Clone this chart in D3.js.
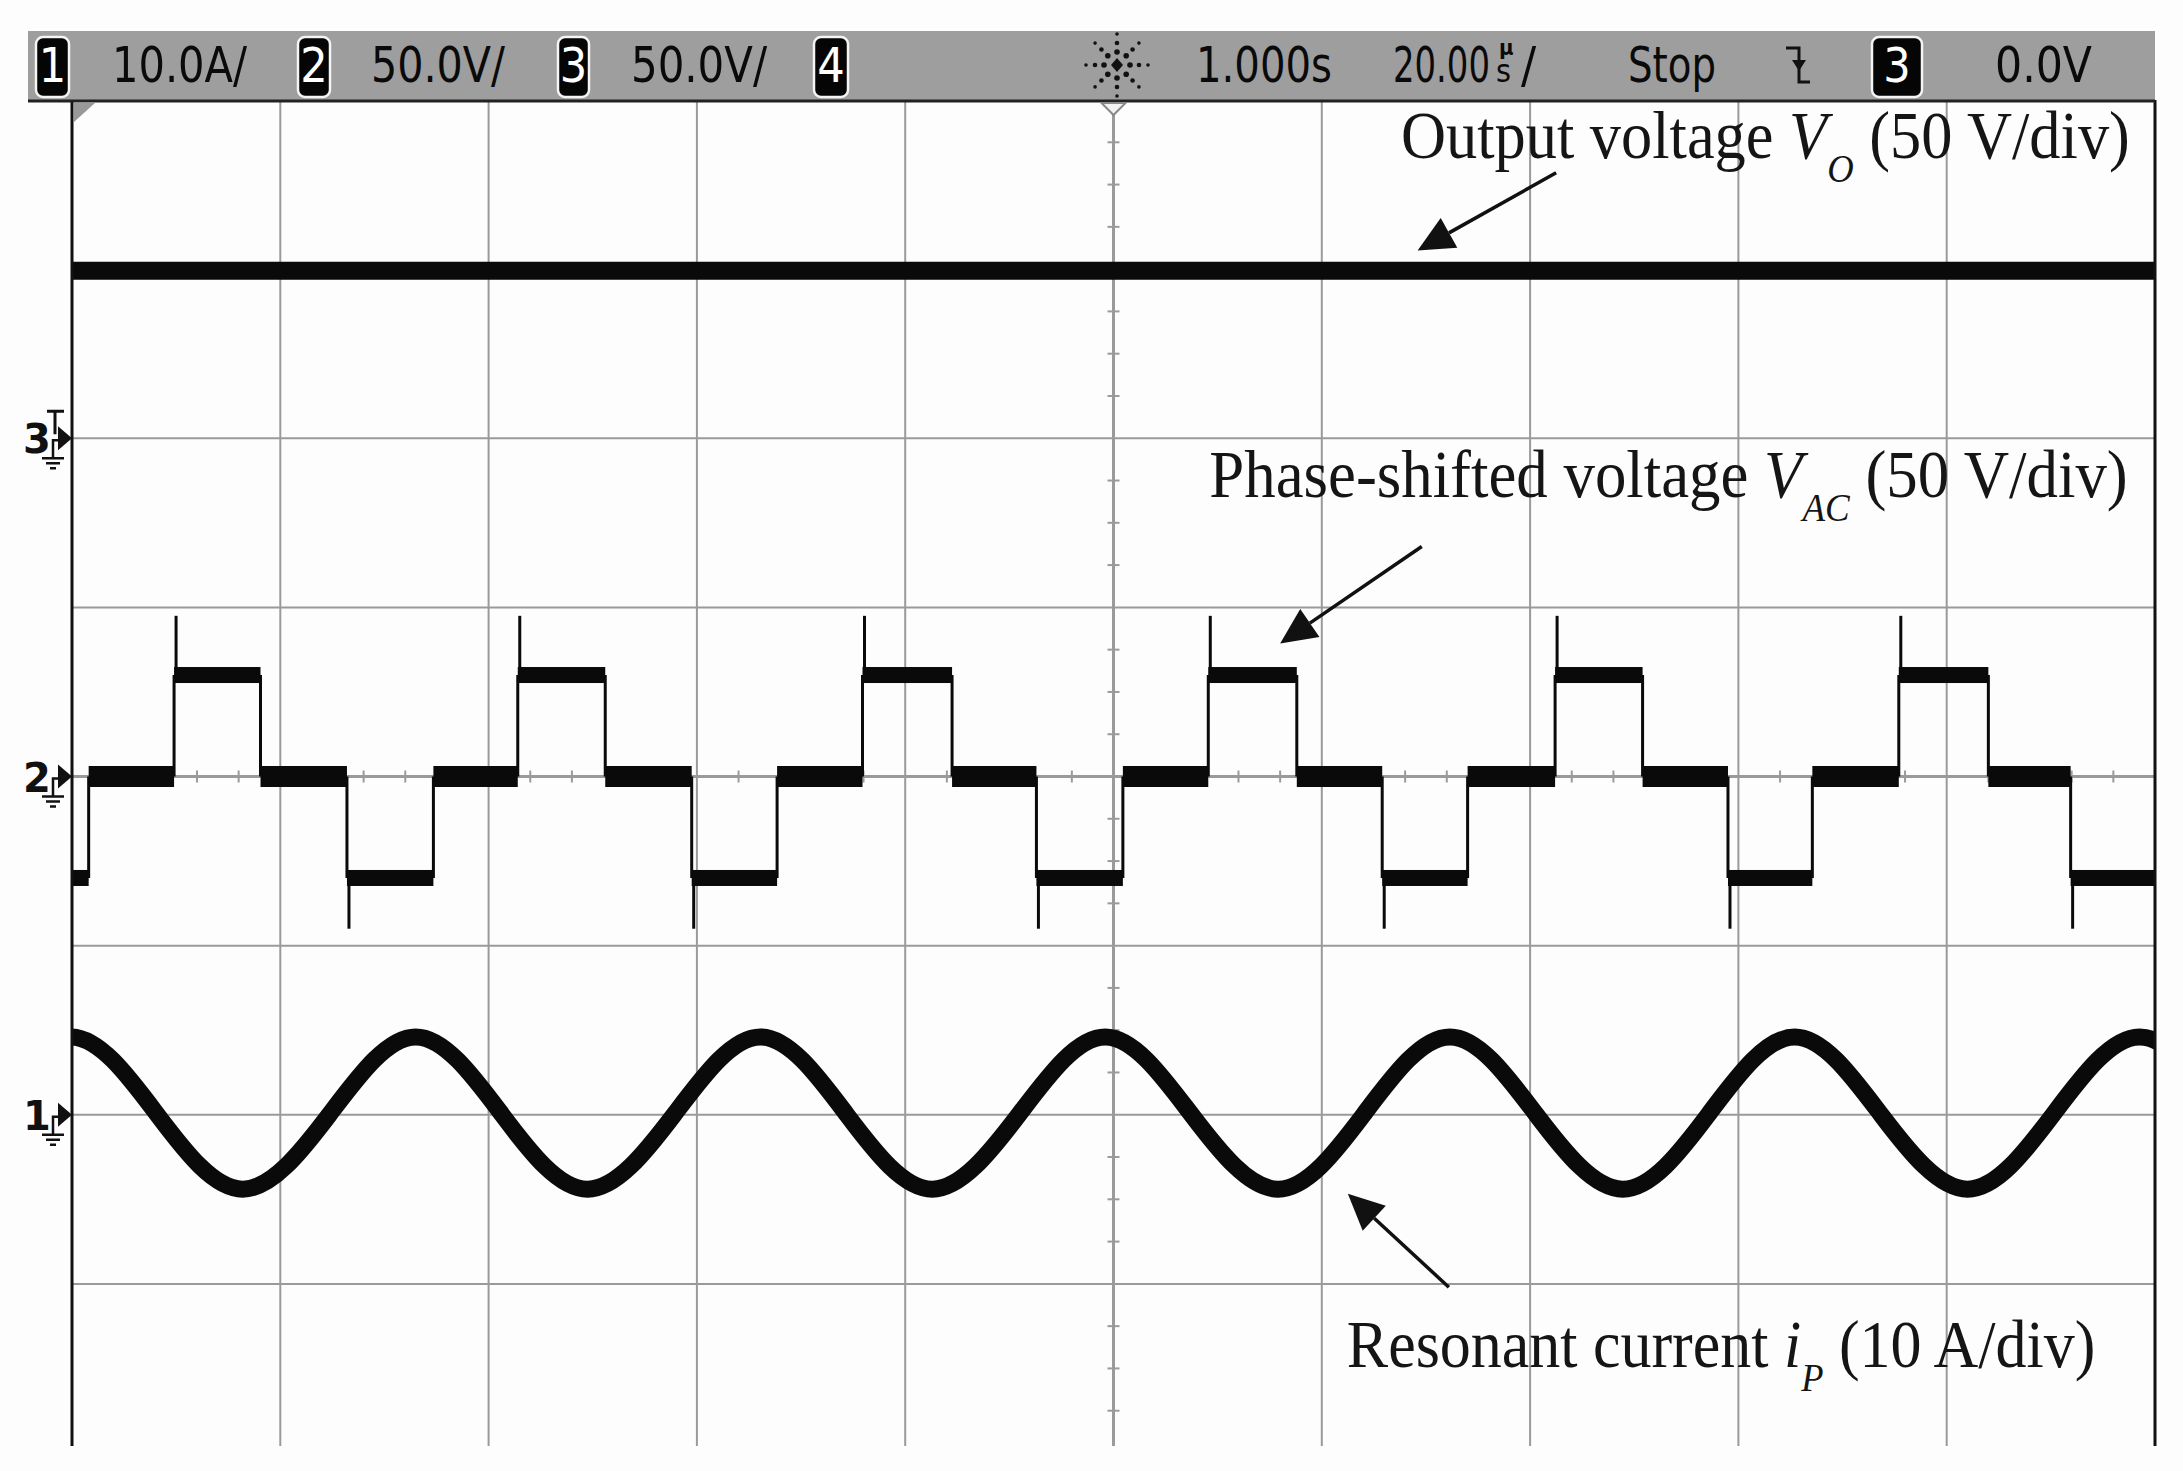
<!DOCTYPE html>
<html>
<head>
<meta charset="utf-8">
<script src="https://cdn.jsdelivr.net/npm/d3@7"></script>
<style>
html, body { margin: 0; padding: 0; background: #fff; }
svg { display: block; }
</style>
</head>
<body>
<svg id="scope" width="2183" height="1471"></svg>
<script>
// scope settings (from the status bar)
var timePerDiv = 20;                          // us / div
var ch1Scale = 10, ch2Scale = 50, ch3Scale = 50;   // A/div, V/div, V/div
var ch1Offset = -2, ch2Offset = 0, ch3Offset = 2;  // ground markers, div from centre

// channel 3 : output voltage Vo
var voTimes = [-100, 100];
var voValues = [49.5, 49.5];

// channel 2 : phase-shifted voltage VAC, edge times (us) and level held after each edge (V)
var vacTimes = [-100, -98.4, -90.2, -81.9, -73.6, -65.3, -57.2, -48.8, -40.5, -32.3, -24.1, -15.5,
                -7.4, 0.9, 9.1, 17.6, 25.8, 34.0, 42.4, 50.8, 59.0, 67.1, 75.4, 84.0, 91.9, 100];
var vacLevels = [-30, 0, 30, 0, -30, 0, 30, 0, -30, 0, 30, 0, -30, 0, 30, 0,
                 -30, 0, 30, 0, -30, 0, 30, 0, -30];
// ringing spike peak at the start of each level (V)
var vacSpikes = [null, null, 47.5, null, -45, null, 47.5, null, -45, null, 47.5, null,
                 -45, null, 47.5, null, -45, null, 47.5, null, -45, null, 47.5, null, -45];

// channel 1 : resonant current ip, peaks / zero crossings / troughs (us, A)
var ipTimes = [-108.4, -100.1, -91.8, -83.6, -75.3, -67.0, -58.7, -50.5, -42.2, -33.9, -25.6, -17.4,
               -9.1, -0.8, 7.5, 15.8, 24.0, 32.3, 40.6, 48.9, 57.1, 65.4, 73.7, 82.0, 90.2, 98.5, 106.8];
var ipValues = [0, 4.6, 0, -4.4, 0, 4.6, 0, -4.4, 0, 4.6, 0, -4.4, 0, 4.6,
                0, -4.4, 0, 4.6, 0, -4.4, 0, 4.6, 0, -4.4, 0, 4.6, 0];

// status bar
var chanBoxes = [["1", 36, 69], ["2", 298, 330], ["3", 558, 589], ["4", 814, 848], ["3", 1872, 1922]];
var statusTexts = [["10.0A/", 112, 247], ["50.0V/", 371, 505], ["50.0V/", 631, 767],
                   ["1.000s", 1196, 1332], ["Stop", 1628, 1716], ["0.0V", 1995, 2092]];

// channel ground markers on the left
var markers = [{ch: "3", off: ch3Offset, trig: true}, {ch: "2", off: ch2Offset}, {ch: "1", off: ch1Offset}];

var svg = d3.select("#scope");
var pL = 72, pR = 2155, pT = 100, pB = 1453, gridEnd = 1446;

var x = d3.scaleLinear().domain([-5 * timePerDiv, 5 * timePerDiv]).range([pL, pR]);
var yDiv = d3.scaleLinear().domain([-4, 4]).range([pB, pT]);
var y1 = d3.scaleLinear().domain([(-4 - ch1Offset) * ch1Scale, (4 - ch1Offset) * ch1Scale]).range([pB, pT]);
var y2 = d3.scaleLinear().domain([(-4 - ch2Offset) * ch2Scale, (4 - ch2Offset) * ch2Scale]).range([pB, pT]);
var y3 = d3.scaleLinear().domain([(-4 - ch3Offset) * ch3Scale, (4 - ch3Offset) * ch3Scale]).range([pB, pT]);

svg.append("rect").attr("width", 2183).attr("height", 1471).attr("fill", "#fdfdfd");

svg.append("defs").append("clipPath").attr("id", "plotClip")
    .append("rect").attr("x", pL).attr("y", pT).attr("width", pR - pL).attr("height", gridEnd - pT);

// grid
var grid = svg.append("g").attr("stroke", "#9a9a9a");
d3.range(-4, 5).forEach(k => {
    grid.append("line")
        .attr("x1", x(k * timePerDiv)).attr("x2", x(k * timePerDiv))
        .attr("y1", pT).attr("y2", gridEnd)
        .attr("stroke-width", k == 0 ? 3 : 2)
})
d3.range(-3, 4).forEach(k => {
    grid.append("line")
        .attr("x1", pL).attr("x2", pR)
        .attr("y1", yDiv(k)).attr("y2", yDiv(k))
        .attr("stroke-width", k == 0 ? 3 : 2)
})
// minor ticks on the centre lines
d3.range(-100, 101, timePerDiv / 5).filter(t => t % timePerDiv != 0).forEach(t => {
    grid.append("line").attr("x1", x(t)).attr("x2", x(t))
        .attr("y1", yDiv(0) - 6).attr("y2", yDiv(0) + 6).attr("stroke-width", 2)
})
d3.range(-4, 4.01, 0.25).filter(d => d % 1 != 0).forEach(d => {
    grid.append("line").attr("x1", x(0) - 6).attr("x2", x(0) + 6)
        .attr("y1", yDiv(d)).attr("y2", yDiv(d)).attr("stroke-width", 2)
})

var traces = svg.append("g").attr("clip-path", "url(#plotClip)");

// Vo
traces.append("path")
    .datum(d3.zip(voTimes, voValues))
    .attr("d", d3.line().x(d => x(d[0])).y(d => y3(d[1])))
    .attr("fill", "none").attr("stroke", "#0a0a0a").attr("stroke-width", 18)

// VAC : noisy plateaus, thin edges, ringing spikes
vacLevels.forEach((lev, i) => {
    var band = lev == 0 ? 21 : 16
    traces.append("rect")
        .attr("x", x(vacTimes[i])).attr("width", x(vacTimes[i + 1]) - x(vacTimes[i]))
        .attr("y", y2(lev) - band / 2).attr("height", band)
        .attr("fill", "#0a0a0a")
    if (i > 0) {
        traces.append("line")
            .attr("x1", x(vacTimes[i])).attr("x2", x(vacTimes[i]))
            .attr("y1", y2(vacLevels[i - 1])).attr("y2", y2(lev))
            .attr("stroke", "#0a0a0a").attr("stroke-width", 3)
    }
    if (vacSpikes[i] != null) {
        traces.append("line")
            .attr("x1", x(vacTimes[i]) + 2).attr("x2", x(vacTimes[i]) + 2)
            .attr("y1", y2(lev)).attr("y2", y2(vacSpikes[i]))
            .attr("stroke", "#0a0a0a").attr("stroke-width", 3)
    }
})

// ip
traces.append("path")
    .datum(d3.zip(ipTimes, ipValues))
    .attr("d", d3.line().x(d => x(d[0])).y(d => y1(d[1])).curve(d3.curveNatural))
    .attr("fill", "none").attr("stroke", "#0a0a0a").attr("stroke-width", 17)

// borders
svg.append("line").attr("x1", pL).attr("x2", pL).attr("y1", pT).attr("y2", gridEnd)
    .attr("stroke", "#111").attr("stroke-width", 3)
svg.append("line").attr("x1", pR).attr("x2", pR).attr("y1", pT).attr("y2", gridEnd)
    .attr("stroke", "#111").attr("stroke-width", 3)

// ground markers
var mk = svg.append("g")
markers.forEach(m => {
    var gy = yDiv(m.off)
    mk.append("text").text(m.ch)
        .attr("x", 37).attr("y", gy + 15)
        .attr("text-anchor", "middle")
        .attr("font-family", "'DejaVu Sans', sans-serif").attr("font-weight", "bold")
        .attr("font-size", 40).attr("fill", "#111")
    mk.append("path")
        .attr("d", `M58,${gy - 12}L72,${gy}L58,${gy + 12}Z`).attr("fill", "#111")
    mk.append("path")
        .attr("d", `M58,${gy + 2}H53V${gy + 20}`).attr("fill", "none")
        .attr("stroke", "#111").attr("stroke-width", 2.5)
    ;[[22, 20], [14, 25], [6, 30]].forEach(g => {
        mk.append("line").attr("x1", 53 - g[0] / 2).attr("x2", 53 + g[0] / 2)
            .attr("y1", gy + g[1]).attr("y2", gy + g[1])
            .attr("stroke", "#111").attr("stroke-width", 2.5)
    })
    if (m.trig) {
        mk.append("path").attr("d", `M47,${gy - 27}H64M55,${gy - 27}V${gy - 4}`)
            .attr("fill", "none").attr("stroke", "#111").attr("stroke-width", 3)
    }
})

// annotations
function annotate(parts, t0, t1, divBase) {
    var txt = svg.append("text")
        .attr("font-family", "'Liberation Serif', 'Times New Roman', serif")
        .attr("font-size", 68).attr("fill", "#151515")
    parts.forEach(p => {
        txt.append("tspan").text(p.s)
            .attr("font-style", p.it ? "italic" : null)
            .attr("font-size", p.sub ? 40 : null)
            .attr("dy", p.sub ? 24 : (p.back ? -24 : null))
    })
    var bb = txt.node().getBBox()
    var sx = (x(t1) - x(t0)) / bb.width
    txt.attr("transform", `translate(${x(t0) - bb.x * sx},${yDiv(divBase)}) scale(${sx},1)`)
}
function arrow(tail, tip) {
    var x0 = x(tail[0]), yA = yDiv(tail[1]), x1 = x(tip[0]), yB = yDiv(tip[1])
    var a = Math.atan2(yB - yA, x1 - x0), hl = 36, hw = 17
    var bx = x1 - hl * Math.cos(a), by = yB - hl * Math.sin(a)
    svg.append("line").attr("x1", x0).attr("y1", yA).attr("x2", bx).attr("y2", by)
        .attr("stroke", "#111").attr("stroke-width", 3.5)
    svg.append("path")
        .attr("d", `M${x1},${yB}L${bx - hw * Math.sin(a)},${by + hw * Math.cos(a)}L${bx + hw * Math.sin(a)},${by - hw * Math.cos(a)}Z`)
        .attr("fill", "#111")
}
annotate([{s: "Output voltage "}, {s: "V", it: 1}, {s: "O", it: 1, sub: 1}, {s: " (50 V/div)", back: 1}], 27.6, 97.6, 3.66)
arrow([42.5, 3.57], [29.2, 3.11])
annotate([{s: "Phase-shifted voltage "}, {s: "V", it: 1}, {s: "AC", it: 1, sub: 1}, {s: " (50 V/div)", back: 1}], 9.2, 97.4, 1.65)
arrow([29.6, 1.36], [16.0, 0.787])
annotate([{s: "Resonant current "}, {s: "i", it: 1}, {s: "P", it: 1, sub: 1}, {s: " (10 A/div)", back: 1}], 22.4, 94.3, -3.49)
arrow([32.2, -3.02], [22.5, -2.467])

// status bar
var bar = svg.append("g")
bar.append("rect").attr("x", 28).attr("y", 31).attr("width", pR - 28).attr("height", 70).attr("fill", "#9e9e9e")
bar.append("line").attr("x1", 28).attr("x2", pR).attr("y1", 101).attr("y2", 101)
    .attr("stroke", "#222").attr("stroke-width", 3)
var sansN = "'Liberation Sans Narrow', 'DejaVu Sans Condensed', 'Liberation Sans', sans-serif"
chanBoxes.forEach(b => {
    bar.append("rect").attr("x", b[1]).attr("y", 37).attr("width", b[2] - b[1]).attr("height", 60)
        .attr("rx", 7).attr("fill", "#050505").attr("stroke", "#f4f4f4").attr("stroke-width", 2.5)
    bar.append("text").text(b[0])
        .attr("x", (b[1] + b[2]) / 2).attr("y", 82).attr("text-anchor", "middle")
        .attr("font-family", sansN).attr("font-size", 48).attr("fill", "#fff")
})
statusTexts.forEach(s => {
    bar.append("text").text(s[0])
        .attr("x", s[1]).attr("y", 82)
        .attr("textLength", s[2] - s[1]).attr("lengthAdjust", "spacingAndGlyphs")
        .attr("font-family", sansN).attr("font-size", 50).attr("fill", "#0a0a0a")
})
// time base "20.00 µs/" with the unit stacked, as one text
var tb = bar.append("text").attr("y", 82)
    .attr("font-family", sansN).attr("font-size", 50).attr("fill", "#0a0a0a")
tb.append("tspan").text("20.00").attr("x", 1393).attr("y", 82)
    .attr("textLength", 97).attr("lengthAdjust", "spacingAndGlyphs")
tb.append("tspan").text("µ").attr("x", 1499).attr("y", 55)
    .attr("font-size", 22).attr("font-weight", "bold")
tb.append("tspan").text("s").attr("x", 1496).attr("y", 82).attr("font-size", 32)
tb.append("tspan").text("/").attr("x", 1521).attr("y", 82)

// acquisition icon
var cx = 1117, cy = 65
bar.append("path").attr("d", `M${cx},${cy - 7}L${cx + 6},${cy}L${cx},${cy + 7}L${cx - 6},${cy}Z`).attr("fill", "#111")
d3.range(0, 360, 45).forEach(a => {
    [[13, 2.8], [22, 2.3], [31, 1.8]].forEach(r => {
        bar.append("circle")
            .attr("cx", cx + r[0] * Math.cos(a * Math.PI / 180))
            .attr("cy", cy + r[0] * Math.sin(a * Math.PI / 180))
            .attr("r", r[1]).attr("fill", "#111")
    })
})
// trigger slope icon
bar.append("path").attr("d", "M1786,48H1799V82H1810").attr("fill", "none")
    .attr("stroke", "#111").attr("stroke-width", 3)
bar.append("path").attr("d", "M1792,60L1806,60L1799,71Z").attr("fill", "#111")

// trigger position and reference markers on the graticule edge
svg.append("path").attr("d", `M${x(0) - 12},103L${x(0) + 12},103L${x(0)},115Z`)
    .attr("fill", "#f2f2f2").attr("stroke", "#888").attr("stroke-width", 2)
svg.append("path").attr("d", "M74,103L95,103L74,122Z").attr("fill", "#999")
</script>
</body>
</html>
